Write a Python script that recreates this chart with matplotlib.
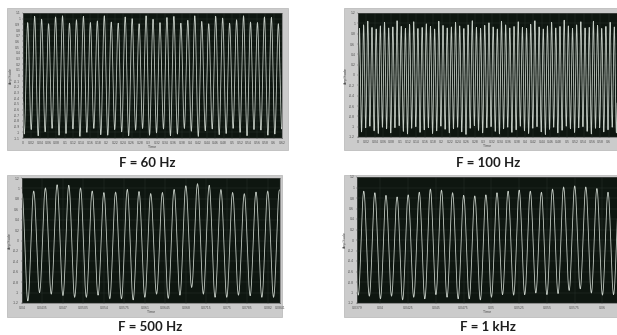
"""Four scope screenshots of sine signals at different frequencies."""
import numpy as np
import matplotlib
matplotlib.use("Agg")
import matplotlib.pyplot as plt
from matplotlib.patches import Rectangle

W, H = 617, 335

captions = ["F = 60 Hz", "F = 100 Hz", "F = 500 Hz", "F = 1 kHz"]
freqs = [60, 100, 500, 1000]

# time of the first drawn peak for each trace (s)
first_peak = [-0.0054, -0.0065, 0.0400, 0.03751]

# axis limits and tick labels
x_limits = [(0.0, 0.62), (0.0, 0.62), (0.04, 0.0841), (0.0379, 0.06132)]
x_ticks = [
    [round(0.02 * i, 2) for i in range(32)],
    [round(0.02 * i, 2) for i in range(31)],
    [0.04, 0.0435, 0.047, 0.0505, 0.054, 0.0575, 0.061, 0.0645,
     0.068, 0.0715, 0.075, 0.0785, 0.082, 0.0841],
    [0.0379, 0.04, 0.0425, 0.045, 0.0475, 0.05, 0.0525, 0.055,
     0.0575, 0.06],
]
y_limits = [(-1.1, 1.1), (-1.2, 1.2), (-1.2, 1.2), (-1.2, 1.2)]
y_ticks = [
    [round(-1.1 + 0.1 * i, 1) for i in range(23)],
    [round(-1.2 + 0.2 * i, 1) for i in range(13)],
    [round(-1.2 + 0.2 * i, 1) for i in range(13)],
    [round(-1.2 + 0.2 * i, 1) for i in range(13)],
]

# peak / trough heights, read cycle by cycle from the screenshots
peaks_60 = [0.97, 0.93, 1.04, 0.99, 0.91, 1.03, 1.05, 0.92, 0.98, 1.04,
            0.93, 0.96, 1.05, 0.94, 0.92, 1.03, 1.00, 0.91, 1.05, 0.99,
            0.93, 1.02, 1.04, 0.92, 0.97, 1.05, 0.95, 0.91, 1.04, 1.01,
            0.92, 0.98, 1.05, 0.94, 0.93, 1.03, 1.02, 0.91, 0.99]
troughs_60 = [-1.03, -0.95, -1.06, -0.99, -0.93, -1.05, -1.02, -0.94, -1.07, -1.00,
              -0.93, -1.04, -1.05, -0.95, -0.99, -1.06, -0.96, -0.93, -1.05, -1.01,
              -0.94, -1.06, -1.03, -0.93, -0.98, -1.07, -0.97, -0.94, -1.04, -1.02,
              -0.93, -1.00, -1.06, -0.95, -0.96, -1.05, -1.03, -0.94]

peaks_100 = [0.93, 0.90, 0.97, 1.04, 0.92, 0.89, 0.95, 1.02, 0.91, 0.93,
             1.05, 0.94, 0.90, 0.98, 1.03, 0.90, 0.92, 0.99, 0.94, 0.89,
             1.04, 0.96, 0.91, 0.93, 1.02, 0.95, 0.90, 0.97, 1.05, 0.92,
             0.90, 0.96, 1.01, 0.93, 0.89, 1.04, 0.97, 0.91, 0.94, 1.03,
             0.92, 0.90, 0.98, 1.05, 0.93, 0.89, 0.95, 1.02, 0.91, 0.94,
             1.06, 0.95, 0.90, 0.97, 1.03, 0.91, 0.92, 1.04, 0.96, 0.90,
             0.94, 1.02, 0.93, 0.91]
troughs_100 = [-1.03, -1.10, -1.02, -0.99, -1.08, -1.13, -1.01, -1.04, -1.12, -1.02,
               -0.98, -1.09, -1.14, -1.03, -1.00, -1.11, -1.06, -1.02, -1.13, -1.08,
               -0.99, -1.05, -1.12, -1.04, -1.01, -1.10, -1.15, -1.03, -0.98, -1.07,
               -1.12, -1.02, -1.00, -1.09, -1.14, -1.04, -1.01, -1.11, -1.06, -0.99,
               -1.08, -1.13, -1.03, -1.00, -1.10, -1.15, -1.05, -1.01, -1.12, -1.07,
               -0.99, -1.04, -1.11, -1.02, -1.00, -1.09, -1.14, -1.03, -1.02, -1.10,
               -1.06, -1.01, -1.12]

peaks_500 = [0.90, 0.95, 1.01, 1.07, 1.06, 1.01, 0.95, 0.92, 0.93, 0.98,
             0.94, 0.90, 0.92, 0.98, 1.05, 1.09, 1.06, 0.98, 0.92, 0.90,
             0.93, 0.95, 0.97]
troughs_500 = [-1.16, -1.00, -1.03, -1.06, -1.09, -1.09, -1.05, -1.12, -1.12, -1.14,
               -1.09, -1.03, -1.11, -1.05, -0.90, -1.03, -1.09, -1.09, -1.05, -1.06,
               -1.09, -1.09]

peaks_1k = [0.92, 0.93, 0.90, 0.85, 0.82, 0.86, 0.91, 0.97, 0.95, 0.90,
            0.85, 0.84, 0.86, 0.90, 0.93, 0.95, 0.93, 0.91, 0.97, 1.01,
            1.03, 1.01, 0.98, 0.91, 0.88]
troughs_1k = [-1.05, -1.07, -1.12, -1.07, -1.14, -1.09, -1.12, -1.04, -1.09, -1.12,
              -1.12, -1.14, -1.09, -1.04, -1.05, -1.04, -1.01, -1.04, -1.02, -0.96,
              -0.93, -1.01, -1.05, -1.04]

peaks = [peaks_60, peaks_100, peaks_500, peaks_1k]
troughs = [troughs_60, troughs_100, troughs_500, troughs_1k]

# layout in pixels: frame box, plot box (x0, y0, x1, y1 from top-left), caption centre
frames = [(7, 8, 288, 150), (344, 8, 619, 150), (7, 175, 282, 317), (344, 175, 619, 317)]
plots = [(23, 13, 282, 138), (358, 13, 617, 137), (22, 178, 280, 303), (357, 177, 617, 303)]
caption_pos = [(147, 163), (488, 163), (150, 327), (488, 327)]


def to_fig(box):
    x0, y0, x1, y1 = box
    return [x0 / W, 1 - y1 / H, (x1 - x0) / W, (y1 - y0) / H]


def trace(t0, freq, pk, tr, steps=14):
    """Smooth half-cycle curve through alternating peaks and troughs."""
    ext = []
    for i, p in enumerate(pk):
        ext.append(p)
        if i < len(tr):
            ext.append(tr[i])
    half = 0.5 / freq
    ts, ys = [], []
    u = np.linspace(0, 1, steps, endpoint=False)
    for j in range(len(ext) - 1):
        ts.append(t0 + (j + u) * half)
        ys.append(ext[j] + (ext[j + 1] - ext[j]) * (1 - np.cos(np.pi * u)) / 2)
    ts.append([t0 + (len(ext) - 1) * half])
    ys.append([ext[-1]])
    return np.concatenate(ts), np.concatenate(ys)


def fmt(v):
    return f"{v:.4f}".rstrip("0").rstrip(".")


fig = plt.figure(figsize=(W / 100, H / 100), dpi=100)
fig.patch.set_facecolor("white")

for i in range(4):
    fx, fy, fw, fh = to_fig(frames[i])
    fig.patches.append(Rectangle((fx, fy), fw, fh, transform=fig.transFigure,
                                 facecolor="#cbcbcb", edgecolor="#b5b5b5",
                                 linewidth=0.5, zorder=-5))

    ax = fig.add_axes(to_fig(plots[i]))
    ax.set_zorder(2)
    ax.set_facecolor("#0e1610")
    t, y = trace(first_peak[i], freqs[i], peaks[i], troughs[i])
    ax.plot(t, y, color="#c4ccc4", linewidth=0.6, solid_joinstyle="round")
    ax.set_xlim(*x_limits[i])
    ax.set_ylim(*y_limits[i])
    ax.set_xticks(x_ticks[i])
    ax.set_xticklabels([fmt(v) for v in x_ticks[i]])
    ax.set_yticks(y_ticks[i])
    ax.set_yticklabels([fmt(v) for v in y_ticks[i]])
    ax.grid(True, color="#28322b", linewidth=0.35)
    ax.tick_params(labelsize=2.2, length=1, width=0.3, pad=1,
                   colors="#555555", labelcolor="#4a4a4a")
    for s in ax.spines.values():
        s.set_color("#5a5a5a")
        s.set_linewidth(0.4)
    ax.set_xlabel("Time", fontsize=2.4, color="#4a4a4a", labelpad=0.5)
    ax.set_ylabel("Amplitude", fontsize=2.4, color="#4a4a4a", labelpad=1)

    cx, cy = caption_pos[i]
    fig.text(cx / W, 1 - cy / H, captions[i], ha="center", va="center",
             fontsize=9.5, fontweight="bold", family=["Lato", "DejaVu Sans"],
             color="#1e1e1e")

fig.savefig("out.png", dpi=100)
